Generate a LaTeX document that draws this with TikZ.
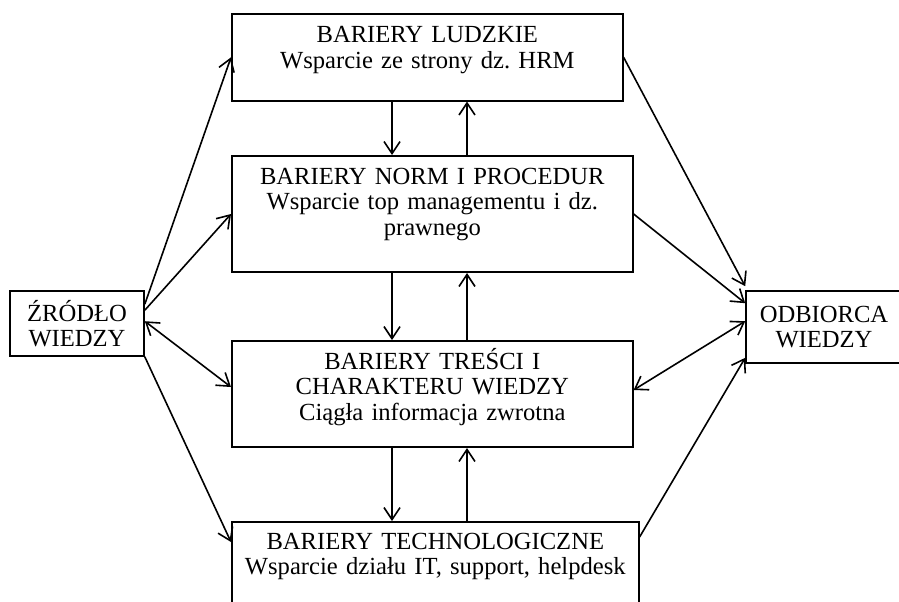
\documentclass[tikz,border=0pt]{standalone}
\usepackage{fontspec}
\setmainfont{Liberation Serif}
\usetikzlibrary{arrows.meta}
\frenchspacing

\tikzset{
  bariera/.style={draw, line width=0.8pt, anchor=north west, align=center,
    inner xsep=3pt, inner ysep=0pt, font=\fontsize{12.3}{12.8}\selectfont},
  wezel/.style={draw, line width=0.8pt, align=center, inner sep=0pt,
    font=\fontsize{12.3}{12.8}\selectfont},
  strz/.style={line width=0.8pt, -{Straight Barb[length=6pt,width=8pt]}},
  dwustr/.style={line width=0.8pt,
    {Straight Barb[length=6pt,width=8pt]}-{Straight Barb[length=6pt,width=8pt]}}
}

\begin{document}
\begin{tikzpicture}[x=0.5pt,y=-0.5pt]
\useasboundingbox (0,0) rectangle (899,601);
\clip (0,0) rectangle (899,601);

\coordinate (dol) at (392,0);
\coordinate (gora) at (467,0);

% bariery
\node (ludzkie) [bariera, text width=189.5pt, text height=14.5pt, text depth=29pt] at (231,13)
  {BARIERY LUDZKIE\\Wsparcie ze strony dz. HRM};
\node (normy) [bariera, text width=194.5pt, text height=14.2pt, text depth=44pt] at (231,155)
  {BARIERY NORM I PROCEDUR\\Wsparcie top managementu i dz.\\prawnego};
\node (tresci) [bariera, text width=194.5pt, text height=14.2pt, text depth=39pt] at (231,340)
  {BARIERY TREŚCI I\\CHARAKTERU WIEDZY\\Ciągła informacja zwrotna};
\node (techno) [bariera, text width=197.5pt, text height=13.7pt, text depth=40pt] at (231,521)
  {BARIERY TECHNOLOGICZNE\\Wsparcie działu IT, support, helpdesk};

% zrodlo i odbiorca
\node (zrodlo) [wezel, minimum width=67pt, minimum height=32.5pt] at (77,323.5)
  {ŹRÓDŁO\\WIEDZY};
\node (odbiorca) [wezel, minimum width=78pt, minimum height=36pt] at (824,327)
  {ODBIORCA\\WIEDZY};

% pionowe
\draw[strz] (ludzkie.south -| dol) -- (normy.north -| dol);
\draw[strz] (normy.north -| gora) -- (ludzkie.south -| gora);
\draw[strz] (normy.south -| dol) -- (tresci.north -| dol);
\draw[strz] (tresci.north -| gora) -- (normy.south -| gora);
\draw[strz] (tresci.south -| dol) -- (techno.north -| dol);
\draw[strz] (techno.north -| gora) -- (tresci.south -| gora);

% lewa strona
\draw[strz] ([yshift=-7pt]zrodlo.north east) -- (ludzkie.west);
\draw[strz] ([yshift=-10pt]zrodlo.north east) -- (normy.west);
\draw[dwustr] ([yshift=-15.5pt]zrodlo.north east) -- ([yshift=3.5pt]tresci.west);
\draw[strz] (zrodlo.south east) -- ([yshift=-10.5pt]techno.north west);

% prawa strona
\draw[strz] (ludzkie.east) -- ([yshift=2pt]odbiorca.north west);
\draw[strz] (normy.east) -- ([yshift=-6.5pt]odbiorca.north west);
\draw[dwustr] ([yshift=2pt]tresci.east) -- ([yshift=-15.5pt]odbiorca.north west);
\draw[strz] ([yshift=-8pt]techno.north east) -- ([yshift=3pt]odbiorca.south west);
\end{tikzpicture}
\end{document}
